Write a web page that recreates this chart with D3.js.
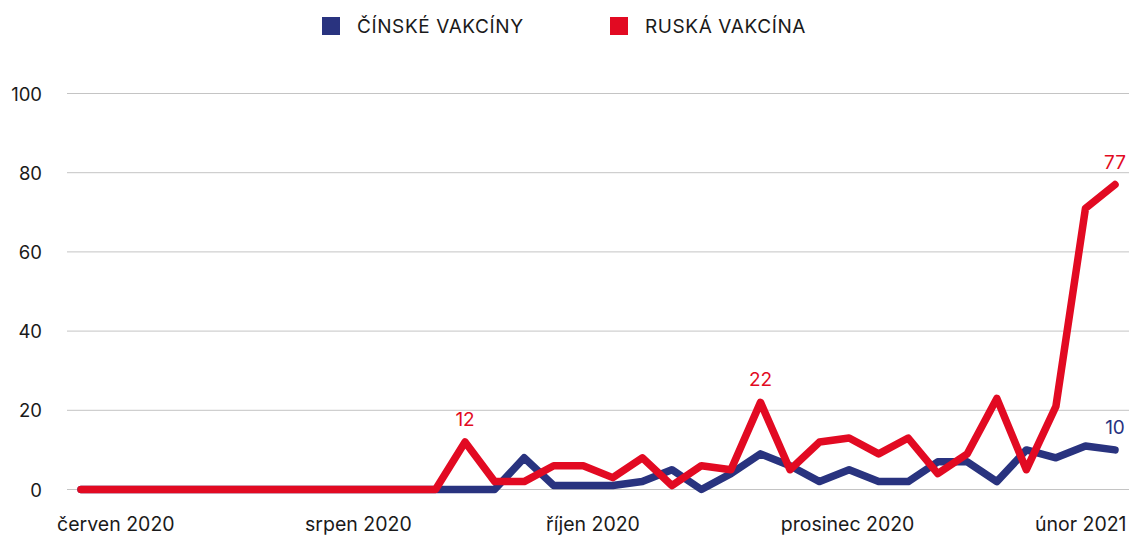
<!DOCTYPE html>
<html>
<head>
<meta charset="utf-8">
<script src="https://cdn.jsdelivr.net/npm/d3@7"></script>
<style>
  body { margin: 0; background: #fff; }
  text { font-family: Inter, 'Noto Sans', sans-serif; }
</style>
</head>
<body>
<div id="canvas"></div>
<script>
// weekly counts, June 2020 - February 2021
const chinese = [0,0,0,0,0,0,0,0,0,0,0,0,0,0,0,8,1,1,1,2,5,0,4,9,6,2,5,2,2,7,7,2,10,8,11,10];
const russian = [0,0,0,0,0,0,0,0,0,0,0,0,0,12,2,2,6,6,3,8,1,6,5,22,5,12,13,9,13,4,9,23,5,21,71,77];

const seriesNames = ['ČÍNSKÉ VAKCÍNY', 'RUSKÁ VAKCÍNA'];
const seriesColors = ['#29337f', '#e20a22'];

const monthLabels = ['červen 2020', 'srpen 2020', 'říjen 2020', 'prosinec 2020', 'únor 2021'];
const monthAt = [1.18, 9.39, 17.33, 25.95, 33.84]; // week index where each label sits
const yTicks = [0, 20, 40, 60, 80, 100];

// points that carry a value label: [series, index]
const annotated = [[1, 13], [1, 23], [1, 35], [0, 35]];

const w = 1129;
const h = 536;

const svg = d3.select('#canvas')
  .append('svg')
  .attr('width', w)
  .attr('height', h);

const x = d3.scaleLinear()
  .domain([0, russian.length - 1])
  .range([81, 1115]);

const y = d3.scaleLinear()
  .domain([0, 100])
  .range([489.5, 93.5]);

// grid
svg.append('g')
  .selectAll('line')
  .data(yTicks)
  .enter()
  .append('line')
  .attr('x1', 67)
  .attr('x2', w)
  .attr('y1', d => y(d))
  .attr('y2', d => y(d))
  .attr('stroke', '#c4c4c4')
  .attr('stroke-width', 1);

svg.append('g')
  .selectAll('text')
  .data(yTicks)
  .enter()
  .append('text')
  .attr('x', 42)
  .attr('y', d => y(d) + 7)
  .attr('text-anchor', 'end')
  .attr('font-size', 18.5)
  .attr('fill', '#1a1a1a')
  .text(d => d);

svg.append('g')
  .selectAll('text')
  .data(monthLabels)
  .enter()
  .append('text')
  .attr('x', (d, i) => x(monthAt[i]))
  .attr('y', 531)
  .attr('text-anchor', 'middle')
  .attr('font-size', 19.5)
  .attr('fill', '#1a1a1a')
  .text(d => d);

// lines
const line = d3.line()
  .x((d, i) => x(i))
  .y(d => y(d));

[chinese, russian].forEach((s, k) => {
  svg.append('path')
    .datum(s)
    .attr('fill', 'none')
    .attr('stroke', seriesColors[k])
    .attr('stroke-width', 7.5)
    .attr('stroke-linejoin', 'round')
    .attr('stroke-linecap', 'round')
    .attr('d', line);
});

// value labels
const all = [chinese, russian];
svg.append('g')
  .selectAll('text')
  .data(annotated)
  .enter()
  .append('text')
  .attr('x', d => x(d[1]))
  .attr('y', d => y(all[d[0]][d[1]]) - 16)
  .attr('text-anchor', 'middle')
  .attr('font-size', 19)
  .attr('fill', d => seriesColors[d[0]])
  .text(d => all[d[0]][d[1]]);

// legend
const legendX = [322, 610];
const legend = svg.append('g')
  .selectAll('g')
  .data(seriesNames)
  .enter()
  .append('g')
  .attr('transform', (d, i) => 'translate(' + legendX[i] + ', 17)');

legend.append('rect')
  .attr('width', 18)
  .attr('height', 18)
  .attr('fill', (d, i) => seriesColors[i]);

legend.append('text')
  .attr('x', 35)
  .attr('y', 16)
  .attr('font-size', 19)
  .attr('letter-spacing', 0.6)
  .attr('fill', '#1a1a1a')
  .text(d => d);
</script>
</body>
</html>
